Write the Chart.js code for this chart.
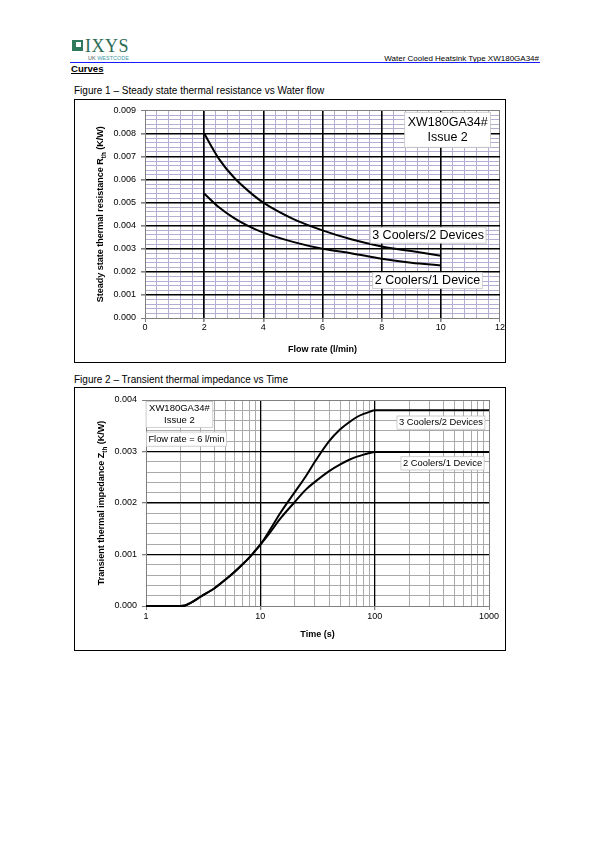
<!DOCTYPE html>
<html lang="en">
<head>
<meta charset="UTF-8" />
<title>Water Cooled Heatsink Type XW180GA34# - Curves</title>
<script src="https://cdn.jsdelivr.net/npm/chart.js"></script>
<style>
  body { margin: 0; width: 595px; height: 842px; position: relative; background: #fff;
         font-family: "Liberation Sans", Arial, Helvetica, sans-serif; color: #000; }
  .abs { position: absolute; white-space: nowrap; }
  .logo-icon { left: 72px; top: 40px; width: 11px; height: 11px; background: #2f7a5c; }
  .logo-icon div { position: absolute; left: 4px; top: 2px; width: 5px; height: 5px; background: #fff; }
  .logo-text { left: 85px; top: 37px; font-family: "Liberation Serif", "DejaVu Serif", serif;
               font-size: 18px; line-height: 1; letter-spacing: 0.5px; color: #2c6b55; }
  .logo-sub { left: 88px; top: 55.5px; font-size: 5.5px; line-height: 1; color: #555; }
  .logo-sub span { color: #3f9aa8; }
  .rule { left: 70px; top: 62px; width: 470px; height: 1px; background: #1a1aff; }
  .doc-title { right: 56px; top: 54.7px; font-size: 8px; line-height: 8px; }
  .section { left: 71px; top: 63.7px; font-size: 9.6px; line-height: 10px; font-weight: bold; text-decoration: underline; }
  .caption { left: 74px; font-size: 10px; line-height: 10px; }
  .figbox { left: 74px; width: 432px; height: 264px; border: 1px solid #000; box-sizing: border-box; }
  canvas { position: absolute; }
</style>
</head>
<body>
  <div class="abs logo-icon"><div></div></div>
  <div class="abs logo-text">IXYS</div>
  <div class="abs logo-sub">UK <span>WESTCODE</span></div>
  <div class="abs doc-title">Water Cooled Heatsink Type XW180GA34#</div>
  <div class="abs rule"></div>
  <div class="abs section">Curves</div>

  <div class="abs caption" style="top:86px">Figure 1 – Steady state thermal resistance vs Water flow</div>
  <div class="abs figbox" style="top:99px"></div>
  <canvas id="fig1" width="430" height="262" style="left:75px; top:100px"></canvas>

  <div class="abs caption" style="top:374.5px">Figure 2 – Transient thermal impedance vs Time</div>
  <div class="abs figbox" style="top:387px"></div>
  <canvas id="fig2" width="430" height="262" style="left:75px; top:388px"></canvas>

<script>
// Figure 1 - steady state thermal resistance vs water flow
const flowRate = [2, 2.5, 3, 3.5, 4, 5, 6, 7, 8, 9, 10];
const rth3Coolers = [0.0080, 0.0069, 0.0061, 0.0055, 0.0050, 0.0043, 0.0038, 0.0034, 0.0031, 0.0029, 0.0027];
const rth2Coolers = [0.0054, 0.0048, 0.00434, 0.00398, 0.0037, 0.0033, 0.0030, 0.0028, 0.00257, 0.0024, 0.00228];
const flowTickLabels = ['0', '2', '4', '6', '8', '10', '12'];
const rthTickLabels = ['0.000', '0.001', '0.002', '0.003', '0.004', '0.005', '0.006', '0.007', '0.008', '0.009'];

// Figure 2 - transient thermal impedance vs time (flow rate 6 l/min)
const timeS = [1, 2, 2.2, 2.5, 3, 4, 5, 6, 7, 8, 9, 10, 12, 15, 20, 25, 30, 40, 50, 60, 70, 80, 90, 100, 1000];
const zth3Coolers = [0, 0, 0.00001, 0.00007, 0.00018, 0.00035, 0.00052, 0.00067, 0.00081, 0.00094, 0.00107, 0.00119,
                     0.00146, 0.00181, 0.00221, 0.00252, 0.00280, 0.00320, 0.00343, 0.00357, 0.00367, 0.00373, 0.00377, 0.00380, 0.00380];
const zth2Coolers = [0, 0, 0.00001, 0.00007, 0.00018, 0.00035, 0.00052, 0.00067, 0.00081, 0.00094, 0.00107, 0.00119,
                     0.00141, 0.00170, 0.00202, 0.00226, 0.00241, 0.00262, 0.00275, 0.00284, 0.00290, 0.00294, 0.00297, 0.00299, 0.00299];
const timeTicks = [1, 10, 100, 1000];
const timeTickLabels = ['1', '10', '100', '1000'];
const zthTickLabels = ['0.000', '0.001', '0.002', '0.003', '0.004'];

const FONT = '"Liberation Sans", Arial, Helvetica, sans-serif';
Chart.defaults.font.family = FONT;
Chart.defaults.font.size = 9;
Chart.defaults.color = '#000';

const EDGE = '#808080';

// linear ticks every `step`, flagged major on multiples of majorStep
function stepTicks(min, max, step, majorStep, labels) {
  const out = [];
  const n = Math.round((max - min) / step);
  let k = 0;
  for (let i = 0; i <= n; i++) {
    const v = min + i * step;
    const major = Math.abs(v / majorStep - Math.round(v / majorStep)) < 1e-6;
    out.push({ value: v, major: major, text: major ? labels[k++] : '' });
  }
  return out;
}

// log ticks: decades labelled, 2..9 as minor lines
function logTicks(decades, labels) {
  const out = [];
  decades.forEach((d, i) => {
    out.push({ value: d, major: true, text: labels[i] });
    if (i < decades.length - 1) {
      for (let m = 2; m <= 9; m++) out.push({ value: d * m, major: false, text: '' });
    }
  });
  return out;
}

const isEdge = (v, min, max) => v <= min * 1.0000001 || v >= max * 0.9999999;

// main axis: only the labelled lines, black inside, grey on the frame
function majorAxis(base, ticksFn, min, max, width, pad, extra) {
  return Object.assign({
    min: min, max: max,
    afterBuildTicks: s => { s.ticks = ticksFn().filter(t => t.major); },
    ticks: { autoSkip: false, maxRotation: 0, minRotation: 0, padding: pad,
             callback: (v, i, t) => t[i].text },
    grid: {
      color: c => (c.tick && isEdge(c.tick.value, min, max)) ? EDGE : '#000',
      lineWidth: c => (c.tick && isEdge(c.tick.value, min, max)) ? 1 : width,
      tickColor: EDGE,
      tickLength: 4
    },
    border: { color: EDGE, width: 1 }
  }, base, extra);
}

// helper axis that only paints the fine grid underneath
function minorAxis(base, ticksFn, min, max, color, horizontal) {
  return Object.assign({
    min: min, max: max,
    afterBuildTicks: s => { s.ticks = ticksFn(); },
    afterFit: s => { if (horizontal) s.height = 0; else s.width = 0; },
    ticks: { display: false, autoSkip: false },
    grid: { color: color, lineWidth: 1, drawTicks: false, z: -2 },
    border: { display: false }
  }, base);
}

function drawYTitle(ctx, parts, x, y, size) {
  ctx.save();
  ctx.translate(x, y);
  ctx.rotate(-Math.PI / 2);
  const big = 'bold ' + size + 'px ' + FONT;
  const small = 'bold ' + (size * 0.7) + 'px ' + FONT;
  let total = 0;
  parts.forEach(p => { ctx.font = p.sub ? small : big; p.w = ctx.measureText(p.t).width; total += p.w; });
  let cx = -total / 2;
  ctx.fillStyle = '#000';
  ctx.textAlign = 'left';
  ctx.textBaseline = 'alphabetic';
  parts.forEach(p => {
    ctx.font = p.sub ? small : big;
    ctx.fillText(p.t, cx, size * 0.36 + (p.sub ? size * 0.28 : 0));
    cx += p.w;
  });
  ctx.restore();
}

// y title with subscript + white label boxes anchored on data coordinates
function overlay(cfg) {
  return {
    id: 'overlay',
    afterDatasetsDraw(chart) {
      const { ctx, scales } = chart;
      ctx.save();
      cfg.boxes.forEach(b => {
        ctx.font = b.size + 'px ' + FONT;
        const lh = b.size * 1.2;
        const w = Math.max(...b.lines.map(l => ctx.measureText(l).width)) + 2 * b.padX;
        const h = b.lines.length * lh + 2 * b.padY;
        const cx = scales.x.getPixelForValue(b.x);
        const cy = scales.y.getPixelForValue(b.y);
        ctx.fillStyle = '#fff';
        ctx.fillRect(cx - w / 2, cy - h / 2, w, h);
        ctx.strokeStyle = '#c4c4c4';
        ctx.lineWidth = 0.8;
        ctx.strokeRect(cx - w / 2, cy - h / 2, w, h);
        ctx.fillStyle = '#000';
        ctx.textAlign = 'center';
        ctx.textBaseline = 'middle';
        b.lines.forEach((l, i) => ctx.fillText(l, cx, cy - h / 2 + b.padY + lh * (i + 0.5)));
      });
      ctx.restore();
    },
    afterDraw(chart) {
      const a = chart.chartArea;
      drawYTitle(chart.ctx, cfg.yTitle, a.left - 45, (a.top + a.bottom) / 2, 9);
    }
  };
}

function curve(xs, ys, w) {
  return {
    data: xs.map((x, i) => ({ x: x, y: ys[i] })),
    xAxisID: 'x',
    yAxisID: 'y',
    showLine: true,
    borderColor: '#000',
    borderWidth: w,
    pointRadius: 0,
    cubicInterpolationMode: 'monotone',
    clip: false
  };
}

const flowTicks = () => stepTicks(0, 12, 0.4, 2, flowTickLabels);
const rthTicks = () => stepTicks(0, 0.009, 0.0002, 0.001, rthTickLabels);
const timeGrid = () => logTicks(timeTicks, timeTickLabels);
const zthTicks = () => stepTicks(0, 0.004, 0.0002, 0.001, zthTickLabels);

new Chart(document.getElementById('fig1'), {
  type: 'scatter',
  data: { datasets: [curve(flowRate, rth3Coolers, 2), curve(flowRate, rth2Coolers, 2)] },
  options: {
    responsive: false,
    animation: false,
    layout: { padding: { top: 10, right: 5, left: 0, bottom: 0 } },
    plugins: { legend: { display: false }, tooltip: { enabled: false } },
    scales: {
      x: majorAxis({ type: 'linear', position: 'bottom' }, flowTicks, 0, 12, 1.6, 0, {
        afterFit: s => { s.height = 44; },
        title: { display: true, text: 'Flow rate (l/min)', font: { size: 9, weight: 'bold' },
                 padding: { top: 0, bottom: 6.6 } }
      }),
      y: majorAxis({ type: 'linear', position: 'left' }, rthTicks, 0, 0.009, 1.6, 5, {
        afterFit: s => { s.width = 70; }
      }),
      xm: minorAxis({ type: 'linear', position: 'bottom' }, flowTicks, 0, 12, '#b3afd3', true),
      ym: minorAxis({ type: 'linear', position: 'left' }, rthTicks, 0, 0.009, '#b3afd3', false)
    }
  },
  plugins: [overlay({
    yTitle: [{ t: 'Steady state thermal resistance R' }, { t: 'th', sub: true }, { t: ' (K/W)' }],
    boxes: [
      { x: 10.23, y: 0.00816, lines: ['XW180GA34#', 'Issue 2'], size: 12.5, padX: 3, padY: 2.5 },
      { x: 9.57, y: 0.00359, lines: ['3 Coolers/2 Devices'], size: 12.5, padX: 2, padY: 0.5 },
      { x: 9.55, y: 0.00162, lines: ['2 Coolers/1 Device'], size: 12.5, padX: 2, padY: 0.5 }
    ]
  })]
});

new Chart(document.getElementById('fig2'), {
  type: 'scatter',
  data: { datasets: [curve(timeS, zth3Coolers, 2), curve(timeS, zth2Coolers, 2)] },
  options: {
    responsive: false,
    animation: false,
    layout: { padding: { top: 12, right: 16, left: 0, bottom: 0 } },
    plugins: { legend: { display: false }, tooltip: { enabled: false } },
    scales: {
      x: majorAxis({ type: 'logarithmic', position: 'bottom' }, timeGrid, 1, 1000, 1.3, 1, {
        afterFit: s => { s.height = 44; },
        title: { display: true, text: 'Time (s)', font: { size: 9, weight: 'bold' },
                 padding: { top: 0, bottom: 10.3 } }
      }),
      y: majorAxis({ type: 'linear', position: 'left' }, zthTicks, 0, 0.004, 1.3, 5, {
        afterFit: s => { s.width = 71; }
      }),
      xm: minorAxis({ type: 'logarithmic', position: 'bottom' }, timeGrid, 1, 1000, '#aaaaaa', true),
      ym: minorAxis({ type: 'linear', position: 'left' }, zthTicks, 0, 0.004, '#aaaaaa', false)
    }
  },
  plugins: [overlay({
    yTitle: [{ t: 'Transient thermal impedance Z' }, { t: 'th', sub: true }, { t: ' (K/W)' }],
    boxes: [
      { x: 1.96, y: 0.00372, lines: ['XW180GA34#', 'Issue 2'], size: 9.5, padX: 3, padY: 1.5 },
      { x: 2.26, y: 0.00324, lines: ['Flow rate = 6 l/min'], size: 9.3, padX: 2, padY: 1.5 },
      { x: 380, y: 0.00356, lines: ['3 Coolers/2 Devices'], size: 9.4, padX: 2, padY: 1 },
      { x: 392, y: 0.00277, lines: ['2 Coolers/1 Device'], size: 9.4, padX: 2, padY: 1 }
    ]
  })]
});
</script>
</body>
</html>
